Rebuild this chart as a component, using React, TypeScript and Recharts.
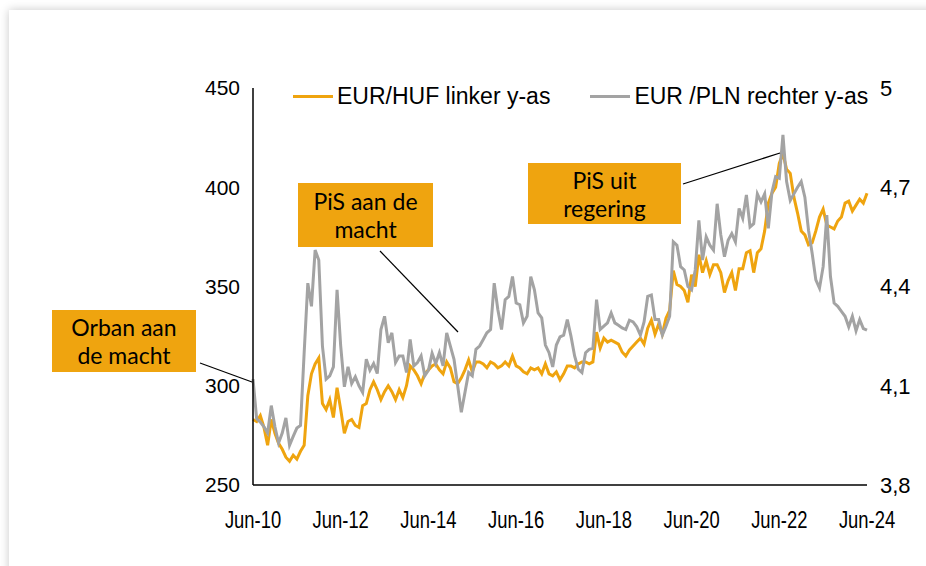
import React from "react"
import { LineChart, Line, XAxis, YAxis } from "recharts"

// maandelijkse waarden, jun-2010 t/m jun-2024
const hufValues = [
  283, 282, 285, 279, 270, 283, 276, 271, 268, 264, 262, 265,
  263, 267, 270, 295, 306, 311, 314, 291, 288, 293, 284, 299,
  288, 276, 282, 283, 280, 279, 290, 291, 298, 302, 298, 293,
  297, 300, 297, 293, 298, 294, 300, 310, 308, 305, 301, 306,
  308, 310, 311, 308, 306, 312, 309, 302, 301, 304, 308, 313,
  307, 312, 312, 311, 309, 312, 311, 309, 310, 312, 310, 315,
  310, 309, 307, 306, 309, 308, 309, 306, 311, 306, 305, 307,
  303, 306, 310, 310, 309, 311, 312, 312, 311, 312, 327, 319,
  324, 322, 323, 322, 321, 317, 315, 318, 320, 322, 324, 321,
  329, 333, 326, 331, 326, 334, 338, 358, 351, 350, 348, 342,
  356, 350, 366, 357, 363, 356, 361, 361, 357, 347, 353, 357,
  348, 359, 359, 367, 368, 357, 367, 369, 378, 392, 397, 400,
  412, 417, 409, 407, 395, 387, 378, 376, 371, 372, 378, 385,
  389, 381, 380, 379, 383, 385, 392, 393, 388, 391, 394, 392,
  397,
]

const plnValues = [
  4.12, 4.0, 3.99, 3.976, 3.957, 4.04, 3.976, 3.927, 3.957, 4.003, 3.92, 3.947,
  3.972, 3.98, 4.2, 4.41, 4.34, 4.51, 4.48, 4.22, 4.12, 4.13, 4.157, 4.39,
  4.22, 4.097, 4.157, 4.107, 4.127, 4.1, 4.08, 4.18, 4.147, 4.167, 4.137, 4.27,
  4.31, 4.23, 4.26, 4.17, 4.19, 4.19, 4.14, 4.24, 4.16, 4.17, 4.19, 4.13,
  4.147, 4.198, 4.167, 4.2, 4.16, 4.26, 4.22, 4.18, 4.1, 4.02, 4.08, 4.14,
  4.13, 4.21, 4.22, 4.24, 4.26, 4.27, 4.41, 4.33, 4.27, 4.36, 4.37, 4.43,
  4.35, 4.345, 4.29, 4.31, 4.43, 4.39, 4.32, 4.305, 4.223, 4.2, 4.157, 4.223,
  4.248, 4.253, 4.3, 4.25, 4.19, 4.15, 4.14, 4.2, 4.21, 4.213, 4.36, 4.27,
  4.28, 4.29, 4.32, 4.29, 4.283, 4.275, 4.27, 4.298, 4.293, 4.278, 4.253, 4.293,
  4.37, 4.374, 4.3, 4.3, 4.253, 4.28, 4.31, 4.535, 4.525, 4.46, 4.45, 4.4,
  4.39, 4.45, 4.6, 4.48, 4.55, 4.525, 4.51, 4.65, 4.556, 4.49, 4.54, 4.56,
  4.535, 4.636, 4.606, 4.677, 4.58, 4.59, 4.68, 4.656, 4.68, 4.576, 4.686, 4.732,
  4.727, 4.858, 4.717, 4.66, 4.68, 4.7, 4.717, 4.67, 4.57, 4.5, 4.42, 4.395,
  4.46, 4.616, 4.43, 4.35, 4.34, 4.325, 4.31, 4.278, 4.31, 4.266, 4.3, 4.273,
  4.268,
]

const xTickLabels = ["Jun-10", "Jun-12", "Jun-14", "Jun-16", "Jun-18", "Jun-20", "Jun-22", "Jun-24"]
const xTicks = [0, 24, 48, 72, 96, 120, 144, 168]
const leftTicks = [250, 300, 350, 400, 450]
const rightTicks = [3.8, 4.1, 4.4, 4.7, 5]

const ORANGE = "#EFA40F"
const GREY = "#A3A3A3"
const axisFont = "'Liberation Sans', Arial, sans-serif"
const noteFont = "Lato, 'Noto Sans', sans-serif"

const data = hufValues.map((huf, i) => ({ i, huf, pln: plnValues[i] }))

const notes = [
  { lines: ["Orban aan", "de macht"], left: 52, top: 310, width: 144, height: 62 },
  { lines: ["PiS aan de", "macht"], left: 298, top: 183, width: 135, height: 64 },
  { lines: ["PiS uit", "regering"], left: 528, top: 163, width: 153, height: 61 },
]

// smalle (condensed) weergave van de datumlabels
const DateTick = (props: any) => {
  const { x, y, payload } = props
  return (
    <text
      transform={`translate(${x},${y + 21}) scale(0.8,1)`}
      textAnchor="middle"
      fontSize={23}
      fontFamily={axisFont}
      fill="#000"
    >
      {xTickLabels[xTicks.indexOf(payload.value)]}
    </text>
  )
}

export default function App() {
  return (
    <div style={{ position: "fixed", left: 0, top: 0, width: 926, height: 566, background: "#fff", overflow: "hidden" }}>
      <div
        style={{
          position: "absolute",
          left: 9,
          top: 10,
          width: 1100,
          height: 800,
          background: "#fff",
          boxShadow: "0 0 9px rgba(0,0,0,0.22)",
        }}
      />
      <div style={{ position: "absolute", left: 0, top: 0 }}>
        <LineChart width={926} height={566} data={data} margin={{ top: 88, right: 0, bottom: 41, left: 200 }}>
          <XAxis
            dataKey="i"
            type="number"
            domain={[0, 168]}
            ticks={xTicks}
            tick={<DateTick />}
            tickLine={false}
            axisLine={{ stroke: "#000", strokeWidth: 1.5 }}
            tickMargin={16}
            height={40}
          />
          <YAxis
            yAxisId="left"
            domain={[250, 450]}
            ticks={leftTicks}
            tickLine={false}
            axisLine={{ stroke: "#000", strokeWidth: 1.5 }}
            tick={{ fill: "#000", fontSize: 21, fontFamily: axisFont }}
            tickMargin={7}
            width={53}
          />
          <YAxis
            yAxisId="right"
            orientation="right"
            domain={[3.8, 5]}
            ticks={rightTicks}
            tickFormatter={(v: number) => String(v).replace(".", ",")}
            tickLine={false}
            axisLine={false}
            tick={{ fill: "#000", fontSize: 22, fontFamily: axisFont }}
            tickMargin={7}
            width={59}
          />
          <Line
            yAxisId="left"
            dataKey="huf"
            stroke={ORANGE}
            strokeWidth={3}
            dot={false}
            isAnimationActive={false}
          />
          <Line
            yAxisId="right"
            dataKey="pln"
            stroke={GREY}
            strokeWidth={3}
            dot={false}
            isAnimationActive={false}
          />
        </LineChart>
      </div>

      {/* legenda */}
      <div style={{ position: "absolute", left: 293, top: 83, display: "flex", alignItems: "center", fontFamily: axisFont, fontSize: 23, color: "#000" }}>
        <span style={{ display: "inline-block", width: 40, height: 3, background: ORANGE, marginRight: 4 }} />
        <span>EUR/HUF linker y-as</span>
        <span style={{ display: "inline-block", width: 40, height: 3, background: GREY, marginLeft: 40, marginRight: 4 }} />
        <span>EUR /PLN rechter y-as</span>
      </div>

      {/* verbindingslijnen annotaties */}
      <svg width={926} height={566} style={{ position: "absolute", left: 0, top: 0, pointerEvents: "none" }}>
        <line x1={200} y1={363} x2={252} y2={382} stroke="#000" strokeWidth={1.2} />
        <line x1={380} y1={251} x2={458} y2={332} stroke="#000" strokeWidth={1.2} />
        <line x1={683} y1={184} x2={780} y2={153} stroke="#000" strokeWidth={1.2} />
      </svg>

      {notes.map((n) => (
        <div
          key={n.lines[0]}
          style={{
            position: "absolute",
            left: n.left,
            top: n.top,
            width: n.width,
            height: n.height,
            background: ORANGE,
            display: "flex",
            flexDirection: "column",
            justifyContent: "center",
            alignItems: "center",
            fontFamily: noteFont,
            fontSize: 23,
            lineHeight: "28px",
            color: "#000",
          }}
        >
          {n.lines.map((l) => (
            <div key={l}>{l}</div>
          ))}
        </div>
      ))}
    </div>
  )
}
